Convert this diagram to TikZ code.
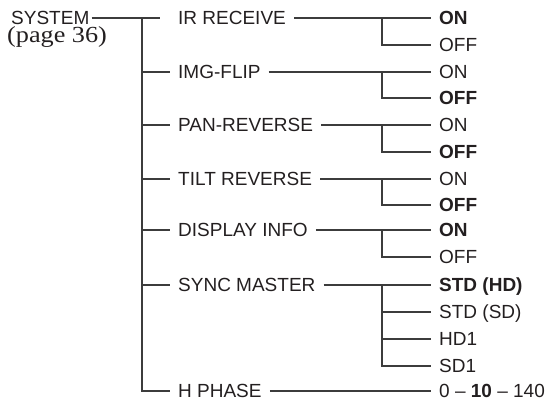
\documentclass[tikz,border=0pt]{standalone}
\usepackage{fontspec}
\setmainfont{Liberation Sans}
\newfontfamily\pagefont{Liberation Serif}
\usepackage{xcolor}
\usetikzlibrary{positioning}
\definecolor{ink}{HTML}{231F20}
\definecolor{wire}{HTML}{3C3C3C}
\tikzset{
  menu/.style={font=\fontsize{19}{21}\selectfont, text=ink, inner ysep=0pt,
    text height=13.4pt, text depth=0pt},
  item/.style={menu, anchor=west, inner xsep=8pt},
  choice/.style={menu, anchor=west, inner xsep=8pt},
  link/.style={draw=wire, line width=1.1pt}
}
\newcommand{\fork}[2]{\draw[link] ([xshift=-49pt]#1.west) |- (#2.west);}

\begin{document}
\begin{tikzpicture}[x=1pt,y=-1pt]
\useasboundingbox (0,0) rectangle (553,404);

% root
\node[menu, anchor=west, inner xsep=2pt] (system) at (9,18) {SYSTEM};
\node[anchor=base west, inner sep=0pt, text=ink] (page) at (7,43)
  {\scalebox{1.14}[1]{\fontsize{23}{25}\selectfont\pagefont (page 36)}};
\coordinate (top) at (142,18);
\coordinate (sysend) at (160,18);
\coordinate (bot) at (142,391);

% items
\node[item] (ir)    at (170,18)  {IR RECEIVE};
\node[item] (img)   at (170,72)  {IMG-FLIP};
\node[item] (pan)   at (170,125) {PAN-REVERSE};
\node[item] (tilt)  at (170,179) {TILT REVERSE};
\node[item] (disp)  at (170,230) {DISPLAY INFO};
\node[item] (sync)  at (170,285) {SYNC MASTER};
\node[item] (phase) at (170,391) {H PHASE};

% choices
\node[choice] (irOn)    at (431,18)  {\textbf{ON}};
\node[choice] (irOff)   at (431,45)  {OFF};
\node[choice] (imgOn)   at (431,72)  {ON};
\node[choice] (imgOff)  at (431,98)  {\textbf{OFF}};
\node[choice] (panOn)   at (431,125) {ON};
\node[choice] (panOff)  at (431,152) {\textbf{OFF}};
\node[choice] (tiltOn)  at (431,179) {ON};
\node[choice] (tiltOff) at (431,205) {\textbf{OFF}};
\node[choice] (dispOn)  at (431,230) {\textbf{ON}};
\node[choice] (dispOff) at (431,257) {OFF};
\node[choice] (syncHD)  at (431,285) {\textbf{STD (HD)}};
\node[choice] (syncSD)  at (431,312) {STD (SD)};
\node[choice] (syncHa)  at (431,339) {HD1};
\node[choice] (syncSa)  at (431,366) {SD1};
\node[choice] (phaseV)  at (431,391) {0 -- \textbf{10} -- 140};

% trunk
\draw[link] (system.east) -- (sysend);
\draw[link] (top) -- (bot) -- (phase.west);
\foreach \n in {img,pan,tilt,disp,sync}
  \draw[link] (\n.west -| top) -- (\n.west);

% branches
\draw[link] (ir.east) -- (irOn.west);
\draw[link] (img.east) -- (imgOn.west);
\draw[link] (pan.east) -- (panOn.west);
\draw[link] (tilt.east) -- (tiltOn.west);
\draw[link] (disp.east) -- (dispOn.west);
\draw[link] (sync.east) -- (syncHD.west);
\draw[link] (phase.east) -- (phaseV.west);
\fork{irOn}{irOff}
\fork{imgOn}{imgOff}
\fork{panOn}{panOff}
\fork{tiltOn}{tiltOff}
\fork{dispOn}{dispOff}
\fork{syncHD}{syncSa}
\foreach \n in {syncSD,syncHa}
  \draw[link] ([xshift=-49pt]\n.west) -- (\n.west);
\end{tikzpicture}
\end{document}
